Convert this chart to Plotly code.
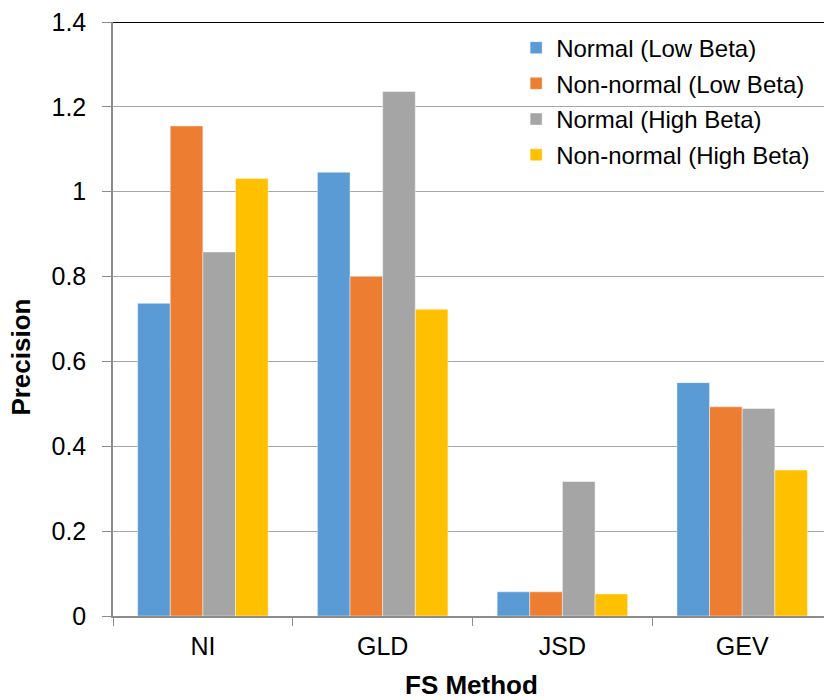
import plotly.graph_objects as go

# Feature-selection methods on the category axis
methods = ["NI", "GLD", "JSD", "GEV"]

# Precision per method for each scenario
normal_low = [0.737, 1.046, 0.057, 0.550]
nonnormal_low = [1.155, 0.800, 0.057, 0.493]
normal_high = [0.858, 1.236, 0.317, 0.489]
nonnormal_high = [1.031, 0.723, 0.052, 0.344]

series_names = [
    "Normal (Low Beta)",
    "Non-normal (Low Beta)",
    "Normal (High Beta)",
    "Non-normal (High Beta)",
]
series_values = [normal_low, nonnormal_low, normal_high, nonnormal_high]
series_colors = ["#5B9BD5", "#ED7D31", "#A5A5A5", "#FFC000"]

y_ticks = [0, 0.2, 0.4, 0.6, 0.8, 1.0, 1.2, 1.4]
y_tick_text = ["0", "0.2", "0.4", "0.6", "0.8", "1", "1.2", "1.4"]

FONT = "Liberation Sans, Arial, sans-serif"

fig = go.Figure()
for i, (name, vals, col) in enumerate(zip(series_names, series_values, series_colors)):
    fig.add_trace(
        go.Bar(
            x=methods,
            y=vals,
            name=name,
            legendgroup=f"g{i}",
            marker=dict(color=col, line=dict(color="rgba(255,255,255,0.55)", width=0.8)),
        )
    )

W, H = 824, 700
ML, MT, MB = 113, 22, 84

fig.update_layout(
    width=W,
    height=H,
    margin=dict(l=ML, r=0, t=MT, b=MB, pad=0),
    paper_bgcolor="white",
    plot_bgcolor="white",
    barmode="group",
    bargap=0.274,
    bargroupgap=0,
    font=dict(family=FONT, color="#000000", size=24),
    showlegend=True,
    legend=dict(
        x=0.567,
        y=0.994,
        xanchor="left",
        yanchor="top",
        bgcolor="rgba(0,0,0,0)",
        font=dict(size=24, family=FONT, color="#000000"),
        tracegroupgap=1.5,
        itemclick=False,
    ),
    xaxis=dict(
        range=[-0.5, 3.455],
        showgrid=False,
        showline=True,
        linecolor="#8C8C8C",
        linewidth=1.5,
        ticks="outside",
        tickson="boundaries",
        ticklen=8,
        tickcolor="#8C8C8C",
        tickwidth=1.2,
        tickfont=dict(size=25, family=FONT, color="#000000"),
        ticklabelstandoff=7,
        zeroline=False,
    ),
    yaxis=dict(
        range=[0, 1.4],
        tickvals=y_ticks,
        ticktext=y_tick_text,
        showgrid=True,
        gridcolor="#A6A6A6",
        gridwidth=1.2,
        showline=True,
        linecolor="#8C8C8C",
        linewidth=1.5,
        ticks="outside",
        ticklen=9,
        tickcolor="#8C8C8C",
        tickwidth=1.2,
        tickfont=dict(size=25, family=FONT, color="#000000"),
        ticklabelstandoff=11,
        zeroline=False,
    ),
    shapes=[
        # dark frame line along the top of the plot area
        dict(
            type="line",
            xref="paper",
            yref="y",
            x0=0,
            x1=1,
            y0=1.4,
            y1=1.4,
            line=dict(color="#000000", width=2),
        )
    ],
    annotations=[
        dict(
            text="<b>Precision</b>",
            xref="paper",
            yref="paper",
            x=-0.13,
            y=0.436,
            xanchor="center",
            yanchor="middle",
            textangle=-90,
            showarrow=False,
            font=dict(size=26, family=FONT, color="#000000"),
        ),
        dict(
            text="<b>FS Method</b>",
            xref="paper",
            yref="paper",
            x=0.504,
            y=-0.117,
            xanchor="center",
            yanchor="middle",
            showarrow=False,
            font=dict(size=26, family=FONT, color="#000000"),
        ),
    ],
)

fig.write_html("out.html")
